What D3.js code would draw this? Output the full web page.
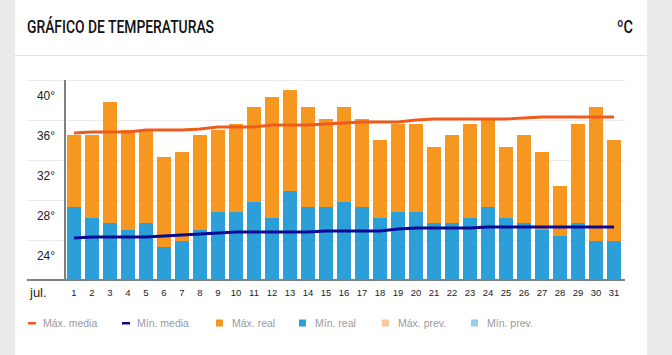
<!DOCTYPE html>
<html>
<head>
<meta charset="utf-8">
<script src="https://cdn.jsdelivr.net/npm/d3@7"></script>
<style>
html,body{margin:0;padding:0;background:#ebebeb;}
svg{display:block;}
</style>
</head>
<body>
<svg id="chart" width="672" height="355"></svg>
<script>
const days = d3.range(1, 32);
const maxReal = [34.5,34.5,37.8,35.0,35.0,32.3,32.8,34.5,35.0,35.6,37.3,38.3,39.0,37.3,36.1,37.3,36.1,34.0,35.6,35.6,33.3,34.5,35.6,36.1,33.3,34.5,32.8,29.4,35.6,37.3,34.0];
const minReal = [27.3,26.2,25.7,25.0,25.7,23.3,23.9,25.0,26.8,26.8,27.8,26.2,28.9,27.3,27.3,27.8,27.3,26.2,26.8,26.8,25.7,25.7,26.2,27.3,26.2,25.7,25.0,24.4,25.7,23.9,23.9];
const maxMedia = [34.7,34.8,34.8,34.8,35.0,35.0,35.0,35.1,35.3,35.3,35.3,35.5,35.5,35.5,35.6,35.7,35.8,35.8,35.8,36.0,36.1,36.1,36.1,36.1,36.1,36.2,36.3,36.3,36.3,36.3,36.3];
const minMedia = [24.2,24.3,24.3,24.3,24.3,24.4,24.5,24.6,24.7,24.8,24.8,24.8,24.8,24.8,24.9,24.9,24.9,24.9,25.1,25.2,25.2,25.2,25.2,25.3,25.3,25.3,25.3,25.3,25.3,25.3,25.3];
const yTicks = [24, 28, 32, 36, 40];
const monthLabel = "jul.";
const title = "GRÁFICO DE TEMPERATURAS";
const unit = "ºC";
const legendLabels = ["Máx. media", "Mín. media", "Máx. real", "Mín. real", "Máx. prev.", "Mín. prev."];
const legendTypes = ["line", "line", "rect", "rect", "rect", "rect"];
const legendColors = ["#f15a1f", "#0a0a96", "#f6981f", "#2c9fd9", "#fdc99b", "#92cfee"];
const legendX = [28, 122, 216, 299, 382, 471];

const C = { maxBar: "#f6981f", minBar: "#2c9fd9", maxLine: "#f15a1f", minLine: "#0a0a96" };

const svg = d3.select("#chart");
// card
svg.append("rect").attr("x", 15).attr("y", 0).attr("width", 632).attr("height", 355).attr("fill", "#fff");
svg.append("line").attr("x1", 15).attr("x2", 647).attr("y1", 55.5).attr("y2", 55.5).attr("stroke", "#dedede").attr("stroke-width", 1);
svg.append("text").attr("x", 27).attr("y", 33).attr("font-family", "Roboto, 'Liberation Sans', sans-serif")
  .attr("font-size", 18).attr("font-weight", 500).attr("fill", "#111").attr("textLength", 187).attr("lengthAdjust", "spacingAndGlyphs").text(title);
svg.append("text").attr("x", 617).attr("y", 33).attr("font-family", "Roboto, 'Liberation Sans', sans-serif")
  .attr("font-size", 18).attr("font-weight", 500).attr("fill", "#111").attr("textLength", 16).attr("lengthAdjust", "spacingAndGlyphs").text(unit);

const x = d3.scaleBand().domain(days).range([65, 623]).paddingInner(4/18).paddingOuter(0.111);
const y = d3.scaleLinear().domain([20, 40]).range([280, 80]);

// gridlines
svg.append("g").selectAll("line").data(yTicks).join("line")
  .attr("x1", 27).attr("x2", 625).attr("y1", d => y(d) + 0.5).attr("y2", d => y(d) + 0.5)
  .attr("stroke", "#ececec").attr("stroke-width", 1);
// y labels
svg.append("g").selectAll("text").data(yTicks).join("text")
  .attr("x", 55).attr("y", d => y(d) + 20).attr("text-anchor", "end")
  .attr("font-family", "'Liberation Sans', Arial, sans-serif").attr("font-size", 13.5).attr("fill", "#222")
  .attr("textLength", 18).attr("lengthAdjust", "spacingAndGlyphs")
  .text(d => d + "°");

// bars
const bars = svg.append("g");
bars.selectAll("rect.min").data(days).join("rect").attr("class", "min")
  .attr("x", d => x(d)).attr("width", x.bandwidth())
  .attr("y", (d, i) => y(minReal[i])).attr("height", (d, i) => y(20) - y(minReal[i]))
  .attr("fill", C.minBar);
bars.selectAll("rect.max").data(days).join("rect").attr("class", "max")
  .attr("x", d => x(d)).attr("width", x.bandwidth())
  .attr("y", (d, i) => y(maxReal[i])).attr("height", (d, i) => y(minReal[i]) - y(maxReal[i]))
  .attr("fill", C.maxBar);

// lines
const cx = d => x(d) + x.bandwidth() / 2;
svg.append("path").datum(days).attr("fill", "none").attr("stroke", C.maxLine).attr("stroke-width", 2.8)
  .attr("d", d3.line().x(d => cx(d)).y((d, i) => y(maxMedia[i])));
svg.append("path").datum(days).attr("fill", "none").attr("stroke", C.minLine).attr("stroke-width", 2.8)
  .attr("d", d3.line().x(d => cx(d)).y((d, i) => y(minMedia[i])));

// axes lines
svg.append("line").attr("x1", 65).attr("x2", 65).attr("y1", 80).attr("y2", 281).attr("stroke", "#808080").attr("stroke-width", 2);
svg.append("line").attr("x1", 27).attr("x2", 625).attr("y1", 280).attr("y2", 280).attr("stroke", "#808080").attr("stroke-width", 2);

// x labels
const xAxis = d3.axisBottom(x).tickSize(0).tickPadding(0);
const gx = svg.append("g").attr("transform", "translate(0,289)").call(xAxis);
gx.select(".domain").remove();
gx.selectAll("text").attr("font-family", "'Liberation Sans', Arial, sans-serif").attr("font-size", 9.5).attr("fill", "#222").attr("dy", "0.71em");
svg.append("text").attr("x", 30).attr("y", 297).attr("font-family", "'Liberation Sans', Arial, sans-serif")
  .attr("font-size", 13).attr("fill", "#222").text(monthLabel);

// legend
const lg = svg.append("g").attr("transform", "translate(0,323)");
legendLabels.forEach((lab, i) => {
  const g = lg.append("g").attr("transform", `translate(${legendX[i]},0)`);
  if (legendTypes[i] === "line") {
    g.append("rect").attr("x", 0).attr("y", -1).attr("width", 8).attr("height", 2.5).attr("fill", legendColors[i]);
    g.append("text").attr("x", 15).attr("y", 4).attr("font-family", "'Liberation Sans', Arial, sans-serif")
      .attr("font-size", 10.5).attr("fill", "#9a9a9a").text(lab);
  } else {
    g.append("rect").attr("x", 0).attr("y", -3.5).attr("width", 7).attr("height", 7).attr("fill", legendColors[i]);
    g.append("text").attr("x", 16).attr("y", 4).attr("font-family", "'Liberation Sans', Arial, sans-serif")
      .attr("font-size", 10.5).attr("fill", "#9a9a9a").text(lab);
  }
});
</script>
</body>
</html>
